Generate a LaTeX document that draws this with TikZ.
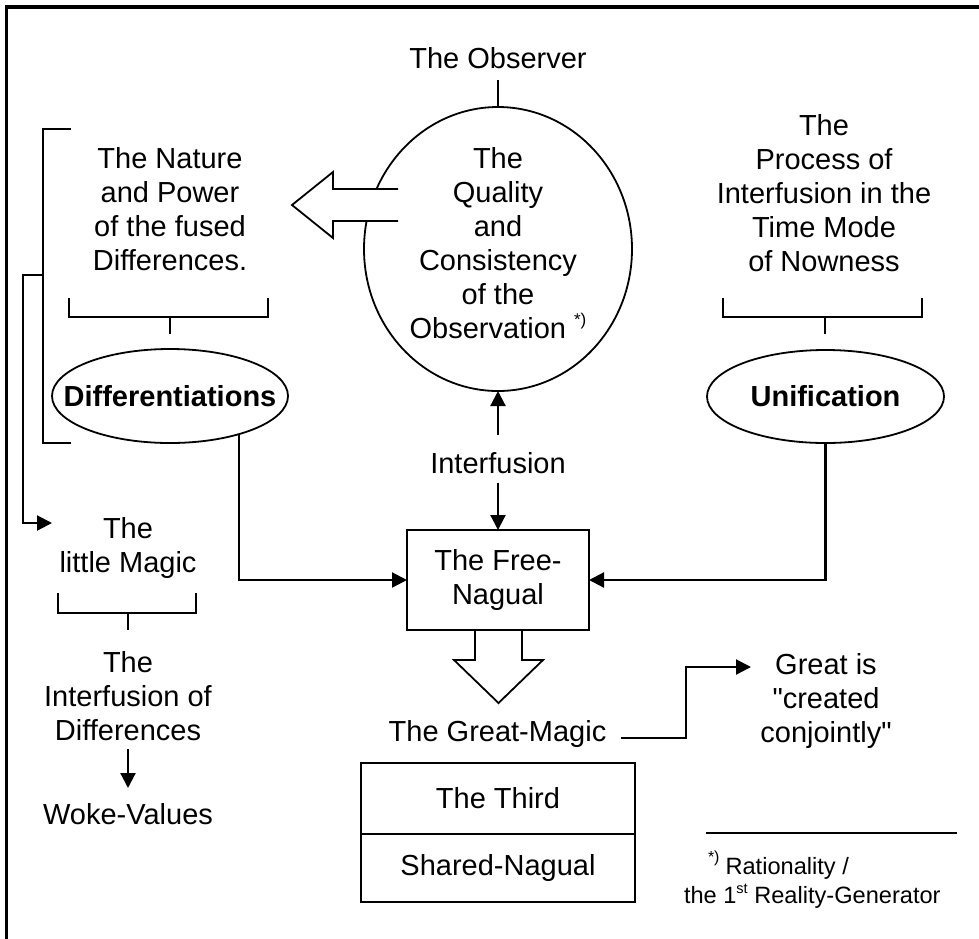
\documentclass[tikz,border=0pt]{standalone}
\usepackage{fontspec}
\setmainfont{Liberation Sans}
\newfontfamily\qfont{Liberation Sans}
\usetikzlibrary{arrows.meta,shapes.geometric}
\newcommand{\rsup}[3]{\raisebox{#1}{\fontsize{#2}{#2}\selectfont #3}}
\newcommand{\sq}{{\qfont"}}
\begin{document}
\begin{tikzpicture}[x=1pt,y=-1pt,
  txt/.style={inner sep=0pt, outer sep=0pt, align=center, font=\fontsize{29}{34}\selectfont},
  fnt/.style={inner sep=0pt, outer sep=0pt, font=\fontsize{23.6}{28}\selectfont},
  oval/.style={ellipse, draw, line width=1.8pt, inner sep=0pt, outer sep=0pt, font=\fontsize{29}{34}\selectfont\bfseries},
  boxx/.style={rectangle, draw, line width=2pt, inner sep=0pt, outer sep=0pt, align=center, font=\fontsize{29}{34}\selectfont},
  conn/.style={line width=2.2pt, -{Triangle[length=15pt,width=15pt]}},
  brk/.style={line width=1.7pt},
  hollow/.style={line width=1.8pt, line join=miter},
]
\useasboundingbox (0,0) rectangle (979,938);
\clip (0,0) rectangle (979,938);
\fill[white] (0,0) rectangle (979,938);

% frame
\draw[line width=3.4pt] (6.5,960) -- (6.5,7) -- (1000,7);

% observer and circle
\node[txt, anchor=base] (obs) at (498,68) {The Observer};
\node[ellipse, draw, line width=1.8pt, minimum width=268pt, minimum height=284pt, inner sep=0pt, outer sep=0pt] (qual) at (498,249) {};
\node[txt, anchor=north] (qualtxt) at (498,147) {The\\Quality\\and\\Consistency\\of the\\Observation \rsup{12.5pt}{17}{*)}};
\draw[brk, shorten <=12pt] (obs.south) -- (qual.north);

% hollow arrow to the left
\fill[white] (398,189) -- (333,189) -- (333,172) -- (292,205) -- (333,238) -- (333,221) -- (398,221) -- cycle;
\draw[hollow] (398,189) -- (333,189) -- (333,172) -- (292,205) -- (333,238) -- (333,221) -- (398,221);

% left column: nature / differentiations
\node[txt, anchor=north] (nat) at (170,147) {The Nature\\and Power\\of the fused\\Differences.};
\draw[brk] (69,298) -- (69,317) -- (268,317) -- (268,298);
\draw[brk] (170,317) -- (170,334);
\node[oval, minimum width=236pt, minimum height=94pt] (diff) at (170,396) {\makebox[0pt]{Differentiations}};

% big left bracket and its connector
\draw[brk] (71,129) -- (43,129) -- (43,443) -- (71,443);
\coordinate (bk) at (43,275);
\coordinate (lmin) at (52,523);
\draw[conn] (bk) -| (23,523) -- (lmin);

% little magic
\node[txt, anchor=north] (lm) at (128,517) {The\\little Magic};
\draw[brk] (58,593) -- (58,613) -- (196,613) -- (196,593);
\draw[brk] (128,613) -- (128,630);
\node[txt, anchor=north] (intd) at (128,651) {The\\Interfusion of\\Differences};
\node[txt, anchor=base] (woke) at (128,824) {Woke-Values};
\draw[conn, shorten <=9pt, shorten >=15pt] (intd.south) -- (woke.north);

% right column
\node[txt, anchor=north] (proc) at (824,114) {The\\Process of\\Interfusion in the\\Time Mode\\of Nowness};
\draw[brk] (723,298) -- (723,317) -- (922,317) -- (922,298);
\draw[brk] (825,317) -- (825,334);
\node[oval, minimum width=237pt, minimum height=93pt] (uni) at (825.5,396.5) {\makebox[0pt]{Unification}};

% centre
\node[txt, anchor=base] (interf) at (498,473) {Interfusion};
\node[boxx, minimum width=182pt, minimum height=100pt] (fn) at (498,580) {The Free-\\Nagual};
\draw[conn, shorten <=17pt] (interf.north) -- (qual.south);
\draw[conn, shorten <=10pt] (interf.south) -- (fn.north);
\draw[conn] (diff.-29) |- (fn.west);
\draw[conn] (uni.south) |- (fn.east);

% hollow down arrow
\draw[hollow] (475,630) -- (475,660) -- (454,660) -- (498.5,703) -- (543,660) -- (522,660) -- (522,630);

% great magic
\node[txt, anchor=base] (gm) at (497.5,741) {The Great-Magic};
\node[txt, anchor=north] (great) at (826,653) {Great is\\\sq created\\conjointly\sq};
\coordinate (gtin) at (751,667);
\draw[conn, shorten <=15pt] (gm.mid east) -- ++(80,0) |- (gtin);

\node[boxx, minimum width=274pt, minimum height=71pt] (third) at (498,798.5) {The Third};
\node[boxx, minimum width=274pt, minimum height=68pt, anchor=north] (shared) at (third.south) {Shared-Nagual};

% footnote
\draw[line width=1.8pt] (706,833) -- (957,833);
\node[fnt, anchor=base west] (fn1) at (708,874) {\rsup{12pt}{16}{*)}\hspace{6pt}Rationality /};
\node[fnt, anchor=base west] (fn2) at (684,903) {the 1\rsup{10pt}{14.5}{st} Reality-Generator};
\end{tikzpicture}
\end{document}
